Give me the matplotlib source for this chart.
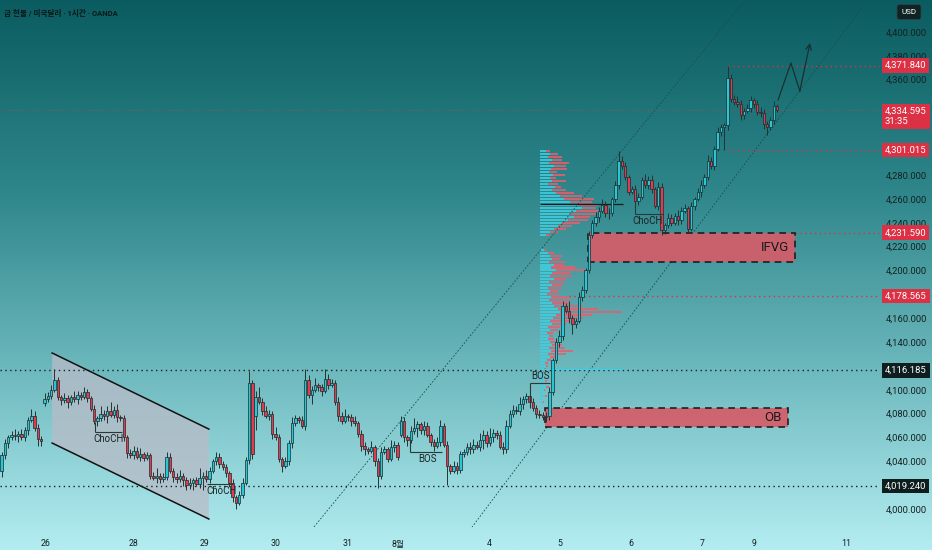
import numpy as np
import matplotlib
matplotlib.use("Agg")
import matplotlib.pyplot as plt
from matplotlib.colors import LinearSegmentedColormap
from matplotlib.patches import Polygon, Rectangle
import matplotlib.transforms as mtransforms

plt.rcParams["font.family"] = ["Roboto", "Noto Sans CJK KR", "DejaVu Sans"]

# ---- hourly candles (closes; open = previous close unless noted) ----
closes = [
    4045, 4055, 4060, 4062, 4061, 4063, 4060, 4066, 4075, 4078,
    4068, 4059, 4057, 4092, 4095, 4100, 4108, 4094, 4091, 4093,
    4090, 4094, 4092, 4096, 4094, 4098, 4093, 4084, 4074, 4076,
    4080, 4078, 4082, 4079, 4083, 4077, 4076, 4060, 4047, 4045,
    4049, 4044, 4046, 4043, 4045, 4028, 4026, 4028, 4025, 4027,
    4044, 4032, 4027, 4025, 4028, 4024, 4020, 4022, 4024, 4021,
    4026, 4028, 4025, 4032, 4040, 4044, 4038, 4035, 4030, 4022,
    4010, 4005, 4012, 4022, 4041, 4106, 4046, 4094, 4090, 4082,
    4078, 4080, 4063, 4060, 4042, 4036, 4040, 4055, 4072, 4076,
    4075, 4070, 4108, 4096, 4100, 4104, 4102, 4099, 4109, 4104,
    4106, 4090, 4078, 4074, 4078, 4077, 4074, 4072, 4063, 4053,
    4050, 4049, 4052, 4040, 4028, 4048, 4050, 4042, 4052, 4054,
    4044, 4074, 4060, 4058, 4065, 4068, 4071, 4066, 4070, 4062,
    4056, 4053, 4056, 4070, 4054, 4036, 4032, 4036, 4033, 4046,
    4048, 4052, 4050, 4054, 4052, 4058, 4062, 4055, 4060, 4064,
    4062, 4052, 4050, 4070, 4080, 4083, 4082, 4088, 4092, 4095,
    4090, 4085, 4080, 4079, 4077, 4078, 4098, 4125, 4140, 4145,
    4170, 4166, 4160, 4155, 4158, 4178, 4184, 4200, 4230, 4240,
    4245, 4250, 4255, 4248, 4248, 4260, 4272, 4292, 4288, 4278,
    4266, 4268, 4258, 4262, 4276, 4272, 4276, 4268, 4254, 4270,
    4234, 4238, 4244, 4240, 4246, 4242, 4250, 4252, 4235, 4254,
    4260, 4266, 4272, 4278, 4292, 4288, 4302, 4316, 4320, 4322,
    4361, 4344, 4341, 4340, 4330, 4334, 4336, 4343, 4340, 4333,
    4332, 4323, 4320, 4326, 4338, 4334.595,
]
first_open = 4032
open_gaps = {13: 4089, 77: 4078, 121: 4062}

wick_up = [
    3, 4, 2, 3, 5, 2, 4, 3, 2, 6,
    4, 3, 2, 5, 3, 4, 9, 3, 2, 4,
    3, 2, 5, 3, 2, 4, 3, 2, 3, 2,
    6, 3, 4, 8, 3, 5, 2, 3, 2, 3,
    4, 3, 5, 2, 3, 2, 3, 6, 2, 3,
    4, 3, 2, 3, 5, 2, 3, 4, 2, 3,
    8, 3, 5, 3, 2, 4, 3, 2, 3, 2,
    3, 2, 3, 4, 3, 10, 2, 5, 8, 3,
    4, 3, 2, 6, 3, 2, 4, 3, 5, 3,
    2, 3, 9, 4, 3, 6, 2, 3, 8, 4,
    3, 2, 4, 3, 6, 2, 3, 4, 2, 3,
    3, 2, 5, 2, 3, 4, 3, 2, 6, 3,
    2, 4, 3, 2, 5, 8, 3, 2, 4, 3,
    2, 3, 4, 5, 2, 3, 2, 4, 3, 3,
    2, 3, 4, 5, 3, 6, 4, 3, 8, 3,
    2, 3, 4, 5, 3, 4, 3, 6, 3, 2,
    4, 3, 2, 3, 2, 3, 4, 2, 3, 5,
    4, 3, 8, 3, 2, 4, 3, 2, 3, 2,
    4, 3, 5, 3, 4, 2, 3, 8, 4, 3,
    2, 3, 4, 3, 2, 5, 3, 4, 2, 4,
    3, 2, 4, 3, 2, 5, 3, 4, 2, 3,
    2, 3, 4, 3, 5, 3, 2, 4, 3, 2,
    10.84, 4, 3, 5, 3, 2, 4, 3, 2, 3,
    4, 3, 2, 3, 4, 2,
]
wick_dn = [
    5, 3, 4, 2, 3, 5, 2, 3, 4, 2,
    3, 6, 4, 3, 2, 3, 2, 3, 4, 2,
    5, 3, 2, 4, 3, 2, 3, 2, 3, 4,
    2, 3, 6, 2, 3, 4, 2, 3, 4, 2,
    3, 2, 4, 3, 2, 3, 2, 4, 3, 2,
    3, 2, 4, 3, 2, 5, 4, 3, 6, 2,
    3, 10, 2, 3, 2, 3, 4, 2, 3, 3,
    4, 5, 2, 3, 2, 3, 4, 12, 2, 3,
    2, 3, 4, 2, 3, 5, 2, 3, 4, 2,
    3, 2, 4, 3, 8, 2, 3, 4, 2, 3,
    2, 3, 4, 3, 2, 3, 4, 2, 3, 4,
    5, 3, 2, 4, 10, 3, 2, 3, 2, 4,
    3, 2, 4, 5, 3, 2, 8, 3, 4, 2,
    3, 4, 2, 3, 2, 16, 3, 2, 4, 3,
    2, 3, 4, 3, 2, 3, 8, 3, 2, 4,
    3, 2, 4, 3, 2, 3, 2, 3, 4, 3,
    2, 3, 4, 3, 2, 4, 3, 2, 3, 4,
    3, 2, 4, 8, 3, 2, 4, 3, 2, 3,
    3, 4, 2, 3, 5, 2, 3, 4, 3, 2,
    3, 2, 4, 3, 2, 3, 4, 3, 2, 3,
    4, 3, 2, 3, 2, 4, 3, 2, 3, 2,
    3, 2, 4, 3, 2, 3, 4, 2, 3, 19,
    4, 3, 2, 3, 4, 3, 2, 3, 4, 3,
    3, 4, 6, 2, 3, 2,
]

# ---- axis labels ----
date_ticks = [13.4, 40.1, 61.6, 83.1, 104.7, 120.1, 147.7, 169.2, 190.7, 212.2, 228.0, 255.9]
date_labels = ["26", "28", "29", "30", "31", "8월", "4", "5", "6", "7", "9", "11"]
price_ticks = list(range(4000, 4401, 20))

# ---- volume profile (top price, 2.5 step) ----
vp_top = 4300
vp_step = 2.5
vp_up = [6, 10, 8, 12, 9, 14, 11, 9, 13, 10, 12, 8, 15, 12, 16, 20, 24, 30, 38, 42,
         36, 30, 34, 28, 22, 18, 14, 10, 6, 0, 0, 0, 0, 4, 8, 10, 12, 9, 14, 11,
         16, 12, 10, 14, 9, 12, 8, 10, 7, 11, 9, 12, 14, 18, 20, 16, 13, 10, 12, 8,
         10, 7, 9, 8, 10, 12, 9, 11, 8, 10, 7, 5, 6, 4, 3, 2, 4, 5, 3, 6, 4, 3, 5, 2, 3]
vp_dn = [4, 8, 14, 10, 20, 12, 16, 8, 12, 6, 14, 10, 6, 14, 18, 22, 30, 22, 20, 14,
         24, 26, 16, 20, 18, 14, 12, 8, 4, 0, 0, 0, 0, 2, 6, 12, 8, 16, 10, 24,
         30, 18, 22, 12, 16, 10, 14, 8, 12, 18, 22, 16, 28, 40, 62, 36, 30, 20, 14, 12,
         8, 6, 4, 6, 8, 10, 16, 22, 18, 6, 4, 3, 2, 2, 1, 0, 1, 2, 0, 3, 1, 0, 2, 0, 1]
vp_left = 163.1
vp_poc = 4255.8

# ---- levels ----
red_levels = [4371.84, 4301.015, 4231.59, 4178.565]
red_starts = [220, 220, 240.4, 172]
black_levels = [4116.185, 4019.24]
last_price = 4334.595
countdown = "31:35"

# ---- drawings ----
down_channel = [(15.3, 4130.8), (62.8, 4067.0), (62.8, 3991.6), (15.3, 4055.3)]
up_channel_hi = ([93.4, 225.3], [3980.7, 4426.8])
up_channel_lo = ([141.9, 260.7], [3982.4, 4420.1])
ifvg_box = (177.7, 240.4, 4207.1, 4231.59)
ob_box = (164.7, 238.3, 4068.8, 4084.7)
# label, x0, x1, level, stem_end, text_x, text_above
structure = [
    ("ChoCH", 28.3, 36.5, 4064.6, 4073.0, 32.5, False),
    ("ChoCH", 62.2, 70.1, 4021.0, None, 66.8, False),
    ("BOS", 123.7, 133.4, 4047.8, 4057.9, 129.2, False),
    ("BOS", 160.1, 166.2, 4105.7, 4084.7, 163.4, True),
    ("ChoCH", 191.9, 200.4, 4247.4, 4256.6, 195.9, False),
]
path_x = [235.3, 239.2, 241.9, 245.0]
path_y = [4343.0, 4374.0, 4350.5, 4390.8]

UP = "#29c6d6"
DN = "#e23a4e"
RED = "#dc3045"
INK = "#142222"

W, H = 932, 550
fig = plt.figure(figsize=(W / 100, H / 100), dpi=100)

# background gradient
bg = fig.add_axes([0, 0, 1, 1], zorder=0)
cmap = LinearSegmentedColormap.from_list(
    "bg", [(0.0, "#0a5c60"), (0.35, "#2f878b"), (0.65, "#68b5ba"), (1.0, "#b3edf1")])
bg.imshow(np.linspace(0, 1, 256).reshape(-1, 1), aspect="auto", cmap=cmap,
          extent=[0, 1, 0, 1], origin="upper")
bg.axis("off")

ax = fig.add_axes([0, 23 / H, 880 / W, 527 / H], zorder=1)
ax.set_facecolor("none")
ax.set_xlim(-0.5, 266.2)
ax.set_ylim(3984.9, 4426.8)
for s in ax.spines.values():
    s.set_visible(False)

n = len(closes)
x = np.arange(n)
c = np.array(closes, dtype=float)
o = np.r_[first_open, c[:-1]]
for i, v in open_gaps.items():
    o[i] = v
top = np.maximum(o, c)
bot = np.minimum(o, c)
hi = top + np.array(wick_up)
lo = bot - np.array(wick_dn)
cols = [UP if cc >= oo else DN for oo, cc in zip(o, c)]

# volume profile
vp_prices = vp_top - vp_step * np.arange(len(vp_up))
scale = 1 / 3.3
ax.barh(vp_prices, np.array(vp_up) * scale, left=vp_left, height=1.7,
        color="#3fcfe2", alpha=0.85, zorder=2, linewidth=0)
ax.barh(vp_prices, np.array(vp_dn) * scale, left=vp_left + np.array(vp_up) * scale,
        height=1.7, color="#e4606f", alpha=0.85, zorder=2, linewidth=0)
ax.hlines(vp_poc, vp_left, 188.3, color="#1a1a1a", lw=0.9, zorder=3)
ax.hlines(4117.0, vp_left, 188.3, color="#3fcfe2", lw=0.9, zorder=3)

# descending channel
ax.add_patch(Polygon(down_channel, closed=True, facecolor="#b9bcc8", alpha=0.75,
                     edgecolor="none", zorder=1.5))
ax.plot([down_channel[0][0], down_channel[1][0]], [down_channel[0][1], down_channel[1][1]],
        color="#111", lw=1.1, zorder=2)
ax.plot([down_channel[3][0], down_channel[2][0]], [down_channel[3][1], down_channel[2][1]],
        color="#111", lw=1.1, zorder=2)

# rising channel
for px, py in (up_channel_hi, up_channel_lo):
    ax.plot(px, py, color="#1d4c4e", lw=0.6, ls=(0, (2, 2)), zorder=2)

# boxes
for (x0, x1, y0, y1), lab in ((ifvg_box, "IFVG"), (ob_box, "OB")):
    ax.add_patch(Rectangle((x0, y0), x1 - x0, y1 - y0, facecolor="#d55d69", alpha=0.92,
                           edgecolor="#151515", lw=1.2, ls=(0, (4, 3)), zorder=2.5))
    ax.text(x1 - 1.8, (y0 + y1) / 2, lab, ha="right", va="center", fontsize=9.5,
            color="#1a1a1a", zorder=6)

# levels
xmax = ax.get_xlim()[1]
for lv, xs in zip(red_levels, red_starts):
    ax.hlines(lv, xs, xmax, color=RED, lw=1.0, ls=(0, (1, 2.5)), zorder=2)
for lv in black_levels:
    ax.hlines(lv, -0.5, xmax, color="#152020", lw=1.0, ls=(0, (1, 2.5)), zorder=2)
ax.hlines(last_price, -0.5, xmax, color="#b84a58", lw=0.6, ls=(0, (1, 2)), alpha=0.8, zorder=2)

# candles
ax.vlines(x, lo, hi, color="#233333", lw=0.7, zorder=3)
ax.bar(x, np.maximum(top - bot, 0.6), bottom=bot, width=0.74, color=cols,
       edgecolor="#1b2a2a", linewidth=0.5, zorder=4)

# structure labels
for lab, x0, x1, lv, stem, tx, above in structure:
    ax.hlines(lv, x0, x1, color="#2a3838", lw=0.8, zorder=5)
    if stem is not None:
        ax.vlines(x0, min(lv, stem), max(lv, stem), color="#2a3838", lw=0.8, zorder=5)
    ax.text(tx, lv + (1.5 if above else -1.5), lab, ha="center",
            va="bottom" if above else "top", fontsize=7, color="#1a2525", zorder=6)

# projection path
ax.plot(path_x[:-1], path_y[:-1], color="#1a3030", lw=0.9, zorder=5)
ax.annotate("", xy=(path_x[-1], path_y[-1]), xytext=(path_x[-2], path_y[-2]),
            arrowprops=dict(arrowstyle="->", color="#1a3030", lw=0.9,
                            shrinkA=0, shrinkB=0), zorder=5)

# axes ticks (labels hidden where an axis tag covers them)
tag_values = red_levels + black_levels + [last_price, last_price - 9]
shown = [v for v in price_ticks if min(abs(v - t) for t in tag_values) > 7]
ax.yaxis.tick_right()
ax.set_yticks(shown)
ax.set_yticklabels([f"{v:,.3f}" for v in shown])
ax.tick_params(axis="y", length=0, pad=4, labelsize=6.8, labelcolor=INK)
ax.set_xticks(date_ticks)
ax.set_xticklabels(date_labels)
ax.tick_params(axis="x", length=0, pad=9, labelsize=6.3, labelcolor=INK)

# price tags on the axis
trans = mtransforms.blended_transform_factory(ax.transAxes, ax.transData)
tags = [(v, RED) for v in red_levels] + [(v, "#0e1d1e") for v in black_levels]
for v, fc in tags:
    ax.text(1 + 5 / 880, v, f"{v:,.3f}", transform=trans, ha="left", va="center",
            fontsize=6.8, color="white", zorder=10, clip_on=False,
            bbox=dict(boxstyle="square,pad=0.3", fc=fc, ec="none"))
ax.text(1 + 5 / 880, last_price + 2.5, f"{last_price:,.3f}\n{countdown}", transform=trans,
        ha="left", va="top", fontsize=6.8, color="white", zorder=10, clip_on=False,
        linespacing=1.15, bbox=dict(boxstyle="square,pad=0.3", fc=RED, ec="none"))

fig.text(4 / W, 1 - 13 / H, "금 현물 / 미국달러 · 1시간 · OANDA", ha="left", va="center",
         fontsize=5.5, color="#0b1818", fontweight="bold")
fig.text(909 / W, 1 - 12 / H, "USD", ha="center", va="center", fontsize=5.8, color="white",
         bbox=dict(boxstyle="round,pad=0.55,rounding_size=0.3", fc="#0f2324", ec="#2c4446", lw=0.6))

fig.savefig("out.png", dpi=100)
